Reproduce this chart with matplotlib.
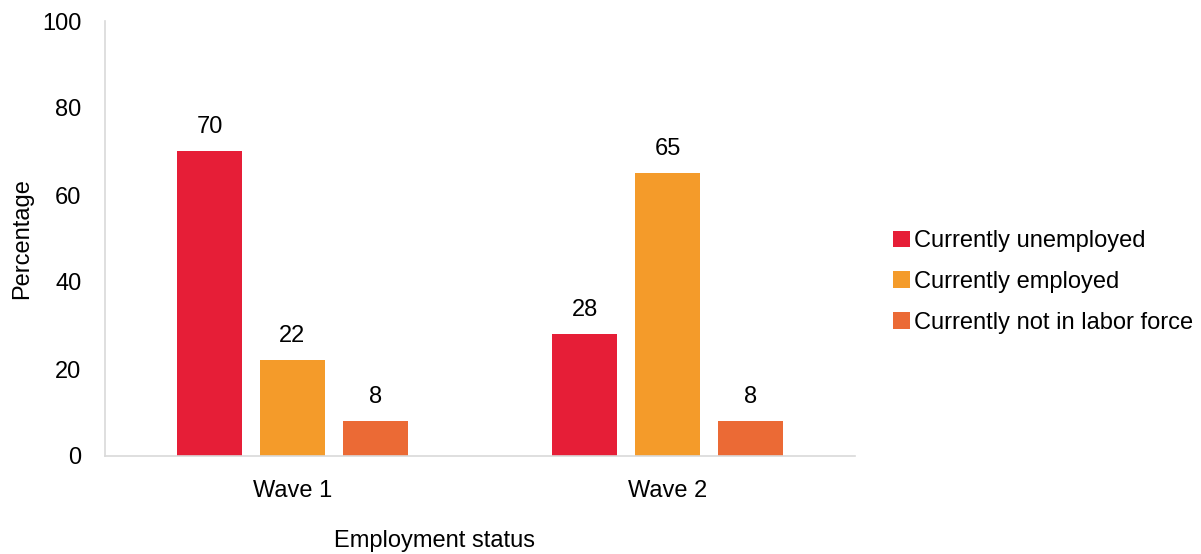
import matplotlib.pyplot as plt
import numpy as np

plt.rcParams['font.family'] = ['Liberation Sans', 'DejaVu Sans']

waves = ["Wave 1", "Wave 2"]
series = ["Currently unemployed", "Currently employed", "Currently not in labor force"]
unemployed = [70, 28]
employed = [22, 65]
not_in_lf = [8, 8]
colors = ["#E61E37", "#F49B2A", "#EB6A35"]

fs = 17
fig = plt.figure(figsize=(12.01, 5.54), dpi=100)
ax = fig.add_axes([105 / 1201, 1 - 456 / 554, 750 / 1201, 435 / 554])

x = np.arange(len(waves))
width = 0.173
offset = 0.221
for i, (vals, name) in enumerate(zip([unemployed, employed, not_in_lf], series)):
    bars = ax.bar(x + (i - 1) * offset, vals, width, color=colors[i], label=name)
    for b, v in zip(bars, vals):
        ax.text(b.get_x() + b.get_width() / 2, v + 3, str(v), ha='center', va='bottom', fontsize=fs)

ax.set_xlim(-0.5, 1.5)
ax.set_ylim(0, 100)
ax.set_yticks(range(0, 101, 20))
ax.set_xticks(x)
ax.set_xticklabels(waves)
ax.tick_params(length=0, labelsize=fs)
ax.tick_params(axis='y', pad=17)
ax.tick_params(axis='x', pad=17)
for s in ["top", "right"]:
    ax.spines[s].set_visible(False)
for s in ["left", "bottom"]:
    ax.spines[s].set_color("#D9D9D9")
    ax.spines[s].set_linewidth(1.2)

ax.set_ylabel("Percentage", fontsize=fs)
ax.yaxis.set_label_coords(-72 / 750, 0.5)
fig.text(435 / 1201, 1 - 541 / 554, "Employment status", ha='center', va='center', fontsize=fs)

ax.legend(loc='center left', bbox_to_anchor=(1.023, 0.40), frameon=False, fontsize=fs,
          handlelength=0.7, handleheight=0.7, handletextpad=0.15, labelspacing=0.8)

plt.savefig("out.png", dpi=100)
